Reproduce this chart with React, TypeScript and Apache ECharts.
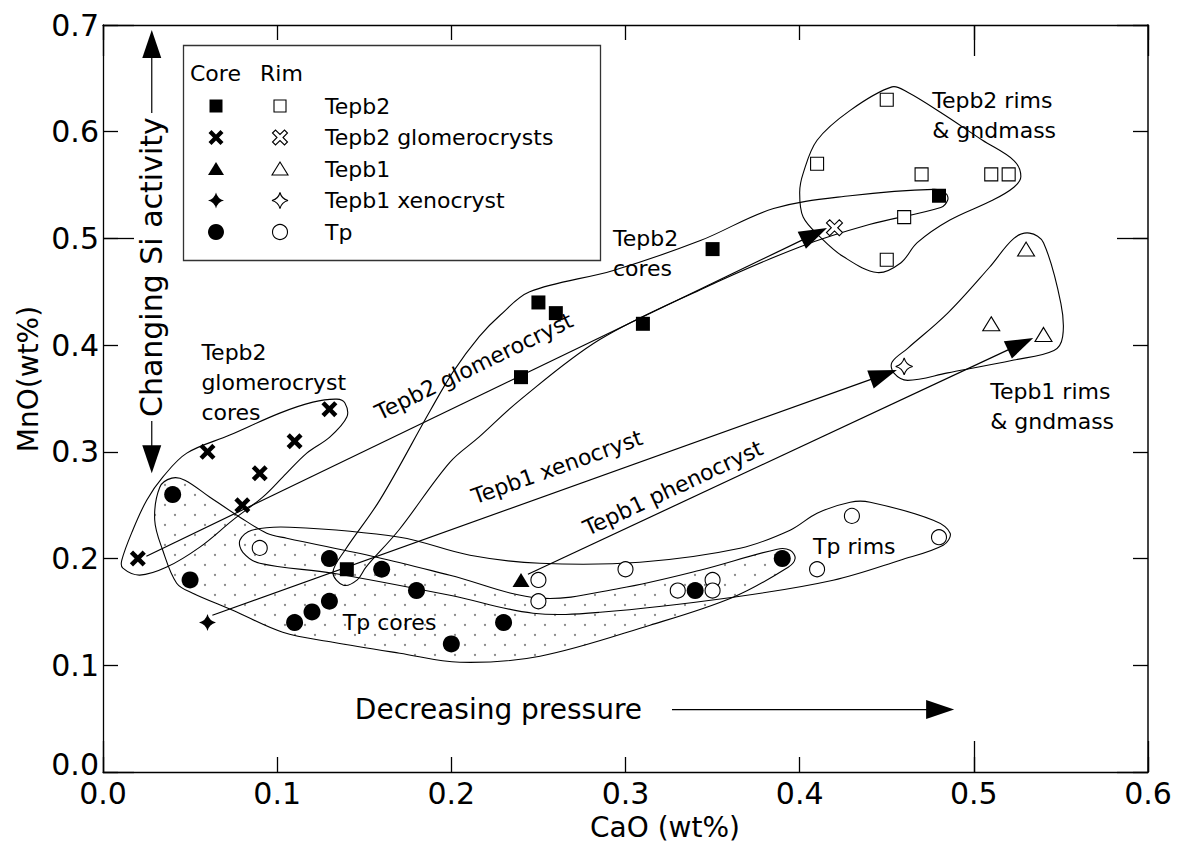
import React, { useEffect, useRef } from "react";
import * as echarts from "echarts";

const FONT = '"DejaVu Sans", Verdana, sans-serif';

// Axes
const X_MIN = 0, X_MAX = 0.6, Y_MIN = 0, Y_MAX = 0.7;
const TICK_STEP = 0.1, LONG_TICK_STEP = 0.5;
const X_TITLE = "CaO (wt%)";
const Y_TITLE = "MnO(wt%)";

// Data points [CaO, MnO]
const TEPB2_CORE = [[0.14, 0.19], [0.24, 0.37], [0.25, 0.44], [0.26, 0.43], [0.31, 0.42], [0.35, 0.49], [0.48, 0.54]];
const TEPB2_RIM = [[0.45, 0.63], [0.41, 0.57], [0.47, 0.56], [0.51, 0.56], [0.52, 0.56], [0.46, 0.52], [0.45, 0.48]];
const GLOM_CORE = [[0.02, 0.20], [0.06, 0.30], [0.08, 0.25], [0.09, 0.28], [0.11, 0.31], [0.13, 0.34]];
const GLOM_RIM = [[0.42, 0.51]];
const TEPB1_CORE = [[0.24, 0.18]];
const TEPB1_RIM = [[0.53, 0.49], [0.51, 0.42], [0.54, 0.41]];
const XENO_CORE = [[0.06, 0.14]];
const XENO_RIM = [[0.46, 0.38]];
const TP_CORE = [[0.04, 0.26], [0.05, 0.18], [0.11, 0.14], [0.12, 0.15], [0.13, 0.16], [0.13, 0.20], [0.16, 0.19], [0.18, 0.17], [0.20, 0.12], [0.23, 0.14], [0.34, 0.17], [0.39, 0.20]];
const TP_RIM = [[0.09, 0.21], [0.25, 0.18], [0.25, 0.16], [0.30, 0.19], [0.33, 0.17], [0.35, 0.18], [0.35, 0.17], [0.41, 0.19], [0.43, 0.24], [0.48, 0.22]];

// Hand-drawn envelopes (data units)
const ENV_TEPB2_RIMS = [[0.453, 0.642], [0.429, 0.620], [0.410, 0.592], [0.402, 0.561], [0.400, 0.543], [0.402, 0.520], [0.412, 0.501], [0.425, 0.483], [0.4445, 0.468], [0.458, 0.477], [0.4675, 0.496], [0.486, 0.517], [0.511, 0.536], [0.523, 0.548], [0.527, 0.558], [0.523, 0.573], [0.505, 0.592], [0.481, 0.618], [0.462, 0.637]];
const ENV_TEPB1_RIMS = [[0.532, 0.505], [0.540, 0.496], [0.550, 0.439], [0.551, 0.408], [0.546, 0.395], [0.523, 0.386], [0.485, 0.374], [0.462, 0.367], [0.454, 0.374], [0.453, 0.384], [0.462, 0.397], [0.485, 0.430], [0.509, 0.473], [0.523, 0.500]];
const ENV_TEPB2_CORES = [[0.138, 0.175], [0.132, 0.187], [0.139, 0.208], [0.159, 0.255], [0.188, 0.339], [0.201, 0.375], [0.216, 0.408], [0.228, 0.428], [0.245, 0.450], [0.293, 0.470], [0.343, 0.498], [0.385, 0.528], [0.429, 0.540], [0.477, 0.546], [0.484, 0.542], [0.485, 0.536], [0.481, 0.529], [0.440, 0.513], [0.400, 0.492], [0.343, 0.452], [0.285, 0.405], [0.239, 0.348], [0.216, 0.314], [0.199, 0.290], [0.170, 0.227], [0.151, 0.192], [0.146, 0.180]];
const ENV_GLOM_CORES = [[0.0108, 0.1985], [0.0171, 0.2266], [0.0251, 0.2547], [0.0343, 0.2763], [0.0481, 0.2988], [0.0728, 0.3157], [0.1015, 0.3363], [0.1205, 0.3466], [0.1343, 0.3494], [0.1389, 0.3457], [0.1400, 0.3326], [0.1302, 0.3138], [0.1170, 0.2988], [0.1032, 0.2763], [0.0917, 0.2576], [0.0745, 0.2360], [0.0556, 0.2107], [0.0366, 0.1920], [0.0211, 0.1845], [0.0114, 0.1910]];
const ENV_TP_RIMS = [[0.0786, 0.2172], [0.0854, 0.2266], [0.1073, 0.2294], [0.1704, 0.2200], [0.2107, 0.2031], [0.2509, 0.1956], [0.3083, 0.1966], [0.3658, 0.2097], [0.3945, 0.2266], [0.4100, 0.2425], [0.4290, 0.2528], [0.4405, 0.2528], [0.4767, 0.2360], [0.4864, 0.2238], [0.4824, 0.2125], [0.4577, 0.1985], [0.4192, 0.1797], [0.3618, 0.1638], [0.2854, 0.1497], [0.2469, 0.1488], [0.1992, 0.1656], [0.1320, 0.1863], [0.0900, 0.1956], [0.0803, 0.2059]];
const ENV_TP_CORES = [[0.0470, 0.2735], [0.0395, 0.2754], [0.0326, 0.2669], [0.0297, 0.2360], [0.0343, 0.2078], [0.0423, 0.1769], [0.0515, 0.1675], [0.0745, 0.1516], [0.1032, 0.1310], [0.1320, 0.1216], [0.1704, 0.1113], [0.2049, 0.1028], [0.2509, 0.1085], [0.3141, 0.1376], [0.3618, 0.1638], [0.3934, 0.1919], [0.3974, 0.2003], [0.3945, 0.2078], [0.3871, 0.2088], [0.3428, 0.1891], [0.2969, 0.1722], [0.2509, 0.1629], [0.1992, 0.1844], [0.1572, 0.2013], [0.1055, 0.2191], [0.0940, 0.2238], [0.0786, 0.2388], [0.0614, 0.2575]];

// Arrows [x0, y0, x1(tip), y1(tip)]
const ARROWS = [
  [0.0249, 0.2022, 0.4157, 0.5097],
  [0.0628, 0.1469, 0.4558, 0.3766],
  [0.2440, 0.1853, 0.5341, 0.4066],
  [0.3267, 0.0585, 0.4887, 0.0585],
  [0.0280, 0.6175, 0.0280, 0.6953],
  [0.0280, 0.3288, 0.0280, 0.2800],
];

// Annotation labels
const LABEL_TEXT = ["Tepb2 rims\n& gndmass", "Tepb2\ncores", "Tepb2\nglomerocryst\ncores", "Tepb1 rims\n& gndmass", "Tp rims", "Tp cores", "Decreasing pressure", "Tepb2 glomerocryst", "Tepb1 xenocryst", "Tepb1 phenocryst", "Changing Si activity"];
const LABEL_POS = [[0.4761, 0.6156], [0.2928, 0.4863], [0.0565, 0.3653], [0.5094, 0.3424], [0.4077, 0.2116], [0.1377, 0.1399], [0.1446, 0.0585], [0.2130, 0.3800], [0.2607, 0.2857], [0.3273, 0.2660], [0.0280, 0.4731]];
const LABEL_ROT = [0, 0, 0, 0, 0, 0, 0, 26.0, 19.7, 25.0, 90];
const LABEL_SIZE = [22, 22, 22, 22, 22, 22, 28, 22, 22, 22, 30];

const LEGEND_ROWS = ["Tepb2", "Tepb2 glomerocrysts", "Tepb1", "Tepb1 xenocryst", "Tp"];

const XMARK_PATH = "M0,2 L2,0 L5,3 L8,0 L10,2 L7,5 L10,8 L8,10 L5,7 L2,10 L0,8 L3,5 Z";
const STAR_PATH = "M5,0 Q6,4 10,5 Q6,6 5,10 Q4,6 0,5 Q4,4 5,0 Z";

export default function App() {
  const ref = useRef<HTMLDivElement>(null);
  useEffect(() => {
    if (!ref.current) return;
    echarts.graphic.registerShape("xmark", echarts.graphic.extendPath(XMARK_PATH, {}));
    echarts.graphic.registerShape("star4", echarts.graphic.extendPath(STAR_PATH, {}));

    const cv = document.createElement("canvas");
    cv.width = 20; cv.height = 20;
    const ctx = cv.getContext("2d");
    if (ctx) {
      ctx.fillStyle = "#8c8c8c";
      ctx.beginPath(); ctx.arc(5, 5, 1.15, 0, Math.PI * 2); ctx.fill();
      ctx.beginPath(); ctx.arc(15, 15, 1.15, 0, Math.PI * 2); ctx.fill();
    }
    const dots: any = { image: cv.toDataURL(), repeat: "repeat", imageWidth: 20, imageHeight: 20 };

    const ENVELOPES = [
      { pts: ENV_TP_CORES, dotted: true },
      { pts: ENV_TP_RIMS, dotted: false },
      { pts: ENV_GLOM_CORES, dotted: false },
      { pts: ENV_TEPB2_CORES, dotted: false },
      { pts: ENV_TEPB2_RIMS, dotted: false },
      { pts: ENV_TEPB1_RIMS, dotted: false },
    ];

    const chart = echarts.init(ref.current, null, { renderer: "svg" });

    const lineStyle = { color: "#000", width: 1.3 };
    const mkX = (pos: string, step: number, len: number, labels: boolean, line: boolean) => ({
      type: "value", min: X_MIN, max: X_MAX, interval: step, position: pos,
      axisLine: { show: line, onZero: false, lineStyle },
      axisTick: { show: true, inside: true, length: len, lineStyle },
      axisLabel: labels ? { show: true, fontSize: 30, color: "#000", fontFamily: FONT, margin: 6, formatter: (v: number) => v.toFixed(1) } : { show: false },
      splitLine: { show: false },
    });
    const mkY = (pos: string, step: number, len: number, labels: boolean, line: boolean) => ({
      type: "value", min: Y_MIN, max: Y_MAX, interval: step, position: pos,
      axisLine: { show: line, onZero: false, lineStyle: pos === "right" ? { color: "#444", width: 2 } : lineStyle },
      axisTick: { show: true, inside: true, length: len, lineStyle },
      axisLabel: labels ? {
        show: true, fontSize: 30, color: "#000", fontFamily: FONT, margin: 4,
        formatter: (v: number) => (v === 0 ? "{z|0.0}" : v.toFixed(1)),
        rich: { z: { fontSize: 30, fontFamily: FONT, color: "#000", padding: [0, 0, 16, 0] } },
      } : { show: false },
      splitLine: { show: false },
    });

    const scatter = (data: number[][], symbol: string, size: any, filled: boolean) => ({
      type: "scatter", data, symbol, symbolSize: size, z: 5, silent: true,
      itemStyle: filled ? { color: "#000", opacity: 1 } : { color: "#fff", borderColor: "#000", borderWidth: 1.1, opacity: 1 },
    });

    const legendEls: any[] = [];
    legendEls.push({ type: "rect", shape: { x: 183.5, y: 45.5, width: 417, height: 215 }, style: { fill: "#fff", stroke: "#333", lineWidth: 1.3 }, z: 10 });
    legendEls.push({ type: "text", x: 190, y: 73, style: { text: "Core", fontSize: 22, fontFamily: FONT, fill: "#000", verticalAlign: "middle" }, z: 11 });
    legendEls.push({ type: "text", x: 260, y: 73, style: { text: "Rim", fontSize: 22, fontFamily: FONT, fill: "#000", verticalAlign: "middle" }, z: 11 });
    const rowsY = [106, 137.5, 169, 200.5, 232];
    const c1 = 216, c2 = 280;
    LEGEND_ROWS.forEach((t, i) => {
      legendEls.push({ type: "text", x: 325, y: rowsY[i], style: { text: t, fontSize: 22, fontFamily: FONT, fill: "#000", verticalAlign: "middle" }, z: 11 });
    });
    const open = { fill: "#fff", stroke: "#000", lineWidth: 1.1 };
    const full = { fill: "#000" };
    let y = rowsY[0];
    legendEls.push({ type: "rect", shape: { x: c1 - 6.5, y: y - 6.5, width: 13, height: 13 }, style: full, z: 11 });
    legendEls.push({ type: "rect", shape: { x: c2 - 6, y: y - 6, width: 12, height: 12 }, style: open, z: 11 });
    y = rowsY[1];
    legendEls.push({ type: "xmark", x: c1 - 7.5, y: y - 7.5, scaleX: 1.5, scaleY: 1.5, style: full, z: 11 });
    legendEls.push({ type: "xmark", x: c2 - 7.5, y: y - 7.5, scaleX: 1.5, scaleY: 1.5, style: { ...open, strokeNoScale: true }, z: 11 });
    y = rowsY[2];
    legendEls.push({ type: "polygon", shape: { points: [[c1, y - 7], [c1 + 8, y + 6], [c1 - 8, y + 6]] }, style: full, z: 11 });
    legendEls.push({ type: "polygon", shape: { points: [[c2, y - 7], [c2 + 8, y + 6], [c2 - 8, y + 6]] }, style: open, z: 11 });
    y = rowsY[3];
    legendEls.push({ type: "star4", x: c1 - 8, y: y - 8, scaleX: 1.6, scaleY: 1.6, style: full, z: 11 });
    legendEls.push({ type: "star4", x: c2 - 8, y: y - 8, scaleX: 1.6, scaleY: 1.6, style: { ...open, strokeNoScale: true }, z: 11 });
    y = rowsY[4];
    legendEls.push({ type: "circle", shape: { cx: c1, cy: y, r: 8 }, style: full, z: 11 });
    legendEls.push({ type: "circle", shape: { cx: c2, cy: y, r: 7.5 }, style: open, z: 11 });

    legendEls.push({ type: "text", x: 665, y: 827, style: { text: X_TITLE, fontSize: 28, fontFamily: FONT, fill: "#000", align: "center", verticalAlign: "middle" } });
    legendEls.push({ type: "text", x: 28, y: 379, rotation: Math.PI / 2, style: { text: Y_TITLE, fontSize: 28, fontFamily: FONT, fill: "#000", align: "center", verticalAlign: "middle" } });

    const option: any = {
      animation: false,
      backgroundColor: "#fff",
      textStyle: { fontFamily: FONT },
      grid: { left: 103, top: 25, right: 29, bottom: 73, containLabel: false },
      xAxis: [
        mkX("bottom", TICK_STEP, 15, true, true),
        mkX("top", TICK_STEP, 15, false, true),
        mkX("bottom", LONG_TICK_STEP, 31, false, false),
        mkX("top", LONG_TICK_STEP, 31, false, false),
      ],
      yAxis: [
        mkY("left", TICK_STEP, 15, true, true),
        mkY("right", TICK_STEP, 15, false, true),
        mkY("left", LONG_TICK_STEP, 31, false, false),
        mkY("right", LONG_TICK_STEP, 31, false, false),
      ],
      graphic: legendEls,
      series: [
        {
          type: "custom", z: 1, silent: true, clip: false,
          data: ENVELOPES.map((e) => e.pts[0]),
          renderItem: (params: any, api: any) => {
            const env = ENVELOPES[params.dataIndex];
            const points = env.pts.map((p) => api.coord(p));
            return {
              type: "polygon", shape: { points, smooth: 0.35 },
              style: { fill: env.dotted ? dots : "none", stroke: "#000", lineWidth: 1.1 },
            };
          },
        },
        {
          type: "custom", z: 2, silent: true, clip: false,
          data: ARROWS,
          encode: { x: [0, 2], y: [1, 3] },
          renderItem: (params: any, api: any) => {
            const p0 = api.coord([api.value(0), api.value(1)]);
            const p1 = api.coord([api.value(2), api.value(3)]);
            const dx = p1[0] - p0[0], dy = p1[1] - p0[1];
            const len = Math.hypot(dx, dy);
            const ux = dx / len, uy = dy / len;
            const L = 28, W = 9.5;
            const bx = p1[0] - ux * L, by = p1[1] - uy * L;
            return {
              type: "group",
              children: [
                { type: "line", shape: { x1: p0[0], y1: p0[1], x2: bx + ux * 2, y2: by + uy * 2 }, style: { stroke: "#000", lineWidth: 1.2 } },
                { type: "polygon", shape: { points: [[p1[0], p1[1]], [bx - uy * W, by + ux * W], [bx + uy * W, by - ux * W]] }, style: { fill: "#000" } },
              ],
            };
          },
        },
        {
          type: "custom", z: 3, silent: true, clip: false,
          data: LABEL_POS,
          renderItem: (params: any, api: any) => {
            const i = params.dataIndex;
            const p = api.coord([api.value(0), api.value(1)]);
            const rot = LABEL_ROT[i];
            return {
              type: "text", x: p[0], y: p[1], rotation: (rot * Math.PI) / 180,
              style: {
                text: LABEL_TEXT[i], fill: "#000", fontSize: LABEL_SIZE[i], fontFamily: FONT,
                align: rot ? "center" : "left", verticalAlign: "middle", lineHeight: 30,
              },
            };
          },
        },
        scatter(TEPB2_CORE, "rect", 14, true),
        scatter(TEPB2_RIM, "rect", 13, false),
        scatter(GLOM_CORE, "path://" + XMARK_PATH, 16, true),
        scatter(GLOM_RIM, "path://" + XMARK_PATH, 16, false),
        scatter(TEPB1_CORE, "triangle", [17, 14], true),
        scatter(TEPB1_RIM, "triangle", [17, 14], false),
        scatter(XENO_CORE, "path://" + STAR_PATH, 17, true),
        scatter(XENO_RIM, "path://" + STAR_PATH, 17, false),
        scatter(TP_CORE, "circle", 17, true),
        scatter(TP_RIM, "circle", 15, false),
      ],
    };
    chart.setOption(option);
    return () => chart.dispose();
  }, []);
  return <div ref={ref} style={{ position: "absolute", left: 0, top: 0, width: 1177, height: 845, background: "#fff" }} />;
}
